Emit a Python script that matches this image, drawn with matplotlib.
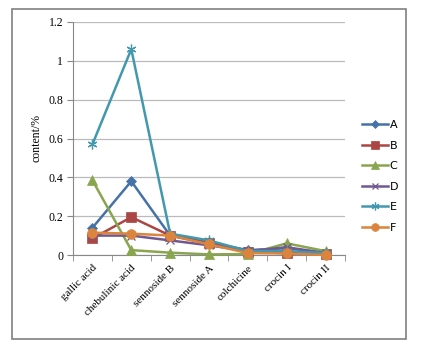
import numpy as np
import matplotlib.pyplot as plt
from matplotlib.patches import Rectangle

categories = ['gallic acid', 'chebulinic acid', 'sennoside B', 'sennoside A',
              'colchicine', 'crocin I', 'crocin II']
A = [0.14, 0.38, 0.10, 0.065, 0.025, 0.035, 0.01]
B = [0.085, 0.195, 0.10, 0.06, 0.015, 0.01, 0.005]
C = [0.385, 0.025, 0.012, 0.003, 0.005, 0.06, 0.02]
D = [0.10, 0.10, 0.075, 0.05, 0.02, 0.04, 0.01]
E = [0.57, 1.06, 0.11, 0.075, 0.02, 0.02, 0.01]
F = [0.115, 0.11, 0.10, 0.055, 0.01, 0.008, 0.0]
series_names = ['A', 'B', 'C', 'D', 'E', 'F']

colors = ['#4572A7', '#AA4643', '#89A54E', '#71588F', '#4198AF', '#DB843D']
markers = ['D', 's', '^', 'x', (6, 2, 0), 'o']
msizes = [5, 7, 7, 6, 7, 7]

plt.rcParams['font.family'] = ['Liberation Serif', 'DejaVu Serif']

fig = plt.figure(figsize=(4.31, 3.47), dpi=100)
# outer frame
fig.patches.append(Rectangle((12/431, 1-339/347), (406-12)/431, (339-9)/347,
                             transform=fig.transFigure, fill=False,
                             edgecolor='#808080', lw=1.2))

ax = fig.add_axes([73/431, 1-255/347, (345-73)/431, (255-22)/347])
x = np.arange(len(categories))
for vals, name, c, m, ms in zip([A, B, C, D, E, F], series_names, colors, markers, msizes):
    ax.plot(x, vals, color=c, lw=1.8, marker=m, ms=ms, mew=0.9 if m in ('x', (6, 2, 0)) else 0.5,
            mec=c, label=name, clip_on=False, zorder=3)

ax.set_xlim(-0.5, len(categories) - 0.5)
ax.set_ylim(0, 1.2)
ax.set_yticks(np.arange(0, 1.21, 0.2))
ax.set_yticklabels(['0', '0.2', '0.4', '0.6', '0.8', '1', '1.2'], fontsize=8.5)
ax.set_xticks(x)
ax.set_xticklabels(categories, rotation=45, ha='right', rotation_mode='anchor', fontsize=8)
ax.set_xticks(np.arange(-0.5, len(categories)), minor=True)
ax.tick_params(axis='x', which='major', length=0, pad=6)
ax.tick_params(axis='x', which='minor', length=4, color='#888888')
ax.tick_params(axis='y', length=4, color='#888888', pad=3)
ax.grid(axis='y', color='#BBBBBB', lw=0.9)
ax.set_axisbelow(True)
for s in ['top', 'right']:
    ax.spines[s].set_visible(False)
for s in ['left', 'bottom']:
    ax.spines[s].set_color('#888888')
ax.set_ylabel('content/%', fontsize=8.5, labelpad=4)

leg = ax.legend(loc='upper left', bbox_to_anchor=(352/431, 1-110/347),
                bbox_transform=fig.transFigure, frameon=False,
                prop={'family': 'DejaVu Sans', 'size': 8},
                handlelength=2.3, labelspacing=0.95, handletextpad=0.2,
                markerscale=0.8)

fig.savefig('out.png', dpi=100)
